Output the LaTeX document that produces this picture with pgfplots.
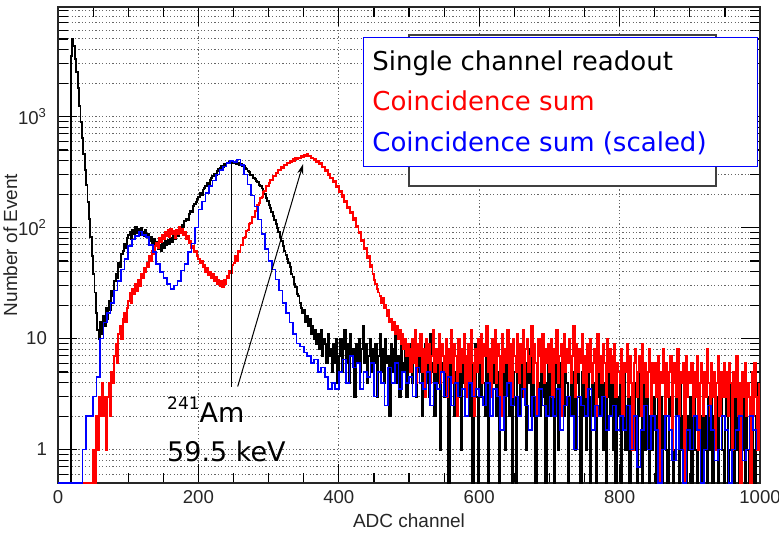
\documentclass[border=0pt]{standalone}
\usepackage{fontspec}
\setmainfont{Liberation Sans}
\newfontfamily\legfont{DejaVu Sans}
\usepackage{pgfplots}
\usepackage{pgfplotstable}
\pgfplotsset{compat=1.18}
\usetikzlibrary{arrows.meta}

% Histogram contents, one value per bin (low edge = index * bin width).
% Empty bins are stored as 0.5, the floor of the log axis.

% Single channel readout, 2 ADC channels per bin
\pgfplotstableread[row sep=\\]{y\\
0.5\\ 0.5\\ 0.5\\ 0.5\\ 0.5\\ 0.5\\ 0.5\\ 0.5\\ 0.5\\ 3500\\ 5000\\ 4300\\ 3300\\ 2500\\ 1800\\ 1250\\ 900\\ 640\\ 460\\ 330\\ 240\\ 170\\ 120\\ 82\\ 55\\
38\\ 26\\ 17\\ 12\\ 10\\ 14\\ 11\\ 16\\ 13\\ 19\\ 15\\ 22\\ 18\\ 27\\ 24\\ 33\\ 38\\ 35\\ 48\\ 44\\ 58\\ 62\\ 71\\ 66\\ 80\\
85\\ 92\\ 78\\ 96\\ 88\\ 101\\ 90\\ 97\\ 86\\ 99\\ 92\\ 84\\ 95\\ 82\\ 88\\ 76\\ 83\\ 72\\ 79\\ 68\\ 74\\ 64\\ 70\\ 62\\ 73\\
66\\ 75\\ 69\\ 78\\ 71\\ 80\\ 74\\ 85\\ 79\\ 88\\ 84\\ 96\\ 92\\ 105\\ 101\\ 114\\ 120\\ 118\\ 132\\ 140\\ 138\\ 155\\ 162\\ 170\\ 182\\
190\\ 205\\ 198\\ 220\\ 228\\ 235\\ 250\\ 245\\ 270\\ 282\\ 290\\ 305\\ 300\\ 325\\ 338\\ 345\\ 360\\ 352\\ 372\\ 365\\ 385\\ 378\\ 392\\ 380\\ 395\\
385\\ 390\\ 376\\ 382\\ 368\\ 372\\ 355\\ 360\\ 342\\ 338\\ 325\\ 318\\ 300\\ 295\\ 280\\ 272\\ 262\\ 255\\ 242\\ 238\\ 225\\ 215\\ 200\\ 185\\ 175\\
160\\ 150\\ 138\\ 128\\ 118\\ 108\\ 100\\ 92\\ 82\\ 76\\ 68\\ 62\\ 57\\ 52\\ 48\\ 44\\ 38\\ 36\\ 31\\ 29\\ 25\\ 24\\ 21\\ 19\\ 17\\
18\\ 14\\ 16\\ 13\\ 15\\ 11\\ 13\\ 10\\ 12\\ 9\\ 11\\ 8\\ 12\\ 7\\ 10\\ 9\\ 6\\ 11\\ 7\\ 8\\ 5\\ 9\\ 6\\ 10\\ 4\\
7\\ 10\\ 5\\ 8\\ 12\\ 6\\ 9\\ 4\\ 11\\ 7\\ 8\\ 3\\ 9\\ 6\\ 10\\ 5\\ 8\\ 13\\ 6\\ 9\\ 4\\ 7\\ 10\\ 5\\ 8\\
6\\ 9\\ 3\\ 7\\ 11\\ 5\\ 8\\ 4\\ 10\\ 6\\ 7\\ 2\\ 9\\ 5\\ 8\\ 12\\ 4\\ 7\\ 3\\ 9\\ 6\\ 5\\ 8\\ 3\\ 7\\
5\\ 9\\ 4\\ 6\\ 10\\ 3\\ 7\\ 5\\ 8\\ 2\\ 6\\ 9\\ 4\\ 7\\ 3\\ 11\\ 5\\ 6\\ 2\\ 8\\ 4\\ 7\\ 1\\ 6\\ 5\\
3\\ 8\\ 5\\ 0.5\\ 6\\ 4\\ 9\\ 2\\ 5\\ 7\\ 3\\ 6\\ 1\\ 8\\ 4\\ 5\\ 3\\ 7\\ 2\\ 6\\ 0.5\\ 5\\ 9\\ 3\\ 0.5\\
6\\ 3\\ 8\\ 4\\ 2\\ 7\\ 0.5\\ 5\\ 3\\ 9\\ 4\\ 6\\ 2\\ 5\\ 0.5\\ 7\\ 3\\ 5\\ 1\\ 8\\ 4\\ 2\\ 6\\ 0.5\\ 5\\
3\\ 0.5\\ 6\\ 4\\ 2\\ 7\\ 3\\ 5\\ 1\\ 6\\ 4\\ 8\\ 2\\ 5\\ 3\\ 0.5\\ 6\\ 4\\ 2\\ 7\\ 3\\ 5\\ 0.5\\ 4\\ 6\\
2\\ 5\\ 3\\ 0.5\\ 7\\ 4\\ 1\\ 6\\ 3\\ 5\\ 2\\ 8\\ 4\\ 0.5\\ 3\\ 6\\ 2\\ 5\\ 1\\ 4\\ 7\\ 3\\ 0.5\\ 5\\ 2\\
4\\ 1\\ 6\\ 3\\ 0.5\\ 5\\ 2\\ 4\\ 0.5\\ 7\\ 3\\ 2\\ 5\\ 1\\ 4\\ 0.5\\ 3\\ 6\\ 2\\ 4\\ 1\\ 5\\ 0.5\\ 3\\ 2\\
4\\ 0.5\\ 3\\ 5\\ 1\\ 2\\ 6\\ 0.5\\ 3\\ 2\\ 4\\ 1\\ 0.5\\ 5\\ 2\\ 3\\ 0.5\\ 4\\ 1\\ 3\\ 2\\ 0.5\\ 5\\ 1\\ 3\\
2\\ 0.5\\ 4\\ 1\\ 3\\ 0.5\\ 2\\ 5\\ 1\\ 0.5\\ 3\\ 2\\ 4\\ 0.5\\ 1\\ 3\\ 2\\ 0.5\\ 4\\ 1\\ 2\\ 3\\ 0.5\\ 2\\ 1\\
3\\ 0.5\\ 2\\ 4\\ 1\\ 0.5\\ 3\\ 2\\ 0.5\\ 5\\ 1\\ 2\\ 0.5\\ 3\\ 1\\ 4\\ 0.5\\ 2\\ 1\\ 3\\ 0.5\\ 2\\ 4\\ 1\\ 0.5\\
2\\ 3\\ 0.5\\ 1\\ 4\\ 2\\ 0.5\\ 3\\ 1\\ 2\\ 0.5\\ 4\\ 1\\ 3\\ 0.5\\ 2\\ 1\\ 0.5\\ 3\\ 2\\ 1\\ 0.5\\ 2\\ 4\\ 1\\
}\singlech

% Coincidence sum, 2 ADC channels per bin
\pgfplotstableread[row sep=\\]{y\\
0.5\\ 0.5\\ 0.5\\ 0.5\\ 0.5\\ 0.5\\ 0.5\\ 0.5\\ 0.5\\ 0.5\\ 0.5\\ 0.5\\ 0.5\\ 0.5\\ 0.5\\ 0.5\\ 0.5\\ 0.5\\ 0.5\\ 0.5\\ 0.5\\ 0.5\\ 0.5\\ 0.5\\ 0.5\\
1\\ 0.5\\ 2\\ 1\\ 3\\ 2\\ 4\\ 2\\ 3\\ 1\\ 3\\ 4\\ 2\\ 5\\ 4\\ 7\\ 9\\ 6\\ 11\\ 13\\ 10\\ 15\\ 17\\ 14\\ 19\\
22\\ 26\\ 21\\ 28\\ 25\\ 31\\ 27\\ 34\\ 30\\ 38\\ 35\\ 43\\ 40\\ 48\\ 44\\ 55\\ 50\\ 61\\ 58\\ 68\\ 72\\ 66\\ 80\\ 74\\ 86\\
78\\ 92\\ 84\\ 95\\ 82\\ 98\\ 88\\ 93\\ 80\\ 96\\ 87\\ 101\\ 90\\ 97\\ 86\\ 92\\ 78\\ 84\\ 72\\ 75\\ 65\\ 68\\ 60\\ 62\\ 55\\
52\\ 48\\ 50\\ 44\\ 46\\ 40\\ 43\\ 37\\ 40\\ 35\\ 38\\ 33\\ 36\\ 31\\ 34\\ 30\\ 33\\ 29\\ 34\\ 31\\ 37\\ 35\\ 41\\ 39\\ 46\\
48\\ 55\\ 50\\ 62\\ 60\\ 70\\ 69\\ 80\\ 82\\ 93\\ 95\\ 108\\ 110\\ 124\\ 125\\ 140\\ 142\\ 160\\ 165\\ 185\\ 188\\ 210\\ 212\\ 235\\ 238\\
250\\ 268\\ 270\\ 290\\ 292\\ 310\\ 312\\ 330\\ 328\\ 348\\ 345\\ 368\\ 362\\ 385\\ 378\\ 400\\ 392\\ 415\\ 400\\ 425\\ 418\\ 428\\ 425\\ 445\\ 432\\
452\\ 440\\ 458\\ 438\\ 445\\ 425\\ 428\\ 405\\ 412\\ 390\\ 398\\ 372\\ 378\\ 350\\ 352\\ 325\\ 328\\ 300\\ 302\\ 280\\ 282\\ 258\\ 262\\ 232\\ 235\\
208\\ 212\\ 188\\ 195\\ 168\\ 175\\ 150\\ 152\\ 135\\ 138\\ 118\\ 122\\ 102\\ 104\\ 90\\ 92\\ 76\\ 78\\ 64\\ 66\\ 53\\ 55\\ 44\\ 46\\ 38\\
34\\ 31\\ 28\\ 26\\ 24\\ 21\\ 23\\ 19\\ 20\\ 16\\ 18\\ 14\\ 15\\ 12\\ 14\\ 11\\ 13\\ 10\\ 12\\ 9\\ 11\\ 8\\ 10\\ 7\\ 9\\
8\\ 5\\ 10\\ 6\\ 12\\ 4\\ 9\\ 7\\ 11\\ 5\\ 8\\ 3\\ 10\\ 6\\ 9\\ 4\\ 7\\ 12\\ 5\\ 8\\ 6\\ 11\\ 4\\ 9\\ 7\\
5\\ 10\\ 3\\ 8\\ 6\\ 12\\ 4\\ 9\\ 7\\ 2\\ 10\\ 5\\ 8\\ 6\\ 11\\ 3\\ 7\\ 9\\ 4\\ 12\\ 6\\ 2\\ 8\\ 5\\ 10\\
6\\ 11\\ 4\\ 9\\ 7\\ 13\\ 5\\ 8\\ 3\\ 10\\ 6\\ 12\\ 4\\ 9\\ 7\\ 2\\ 11\\ 5\\ 8\\ 6\\ 12\\ 4\\ 9\\ 3\\ 10\\
7\\ 5\\ 11\\ 4\\ 9\\ 6\\ 12\\ 3\\ 8\\ 10\\ 5\\ 7\\ 13\\ 4\\ 9\\ 6\\ 2\\ 10\\ 7\\ 5\\ 11\\ 4\\ 8\\ 6\\ 9\\
5\\ 10\\ 3\\ 8\\ 6\\ 12\\ 4\\ 7\\ 9\\ 2\\ 11\\ 5\\ 8\\ 6\\ 10\\ 4\\ 7\\ 13\\ 3\\ 9\\ 5\\ 8\\ 6\\ 11\\ 4\\
7\\ 3\\ 9\\ 5\\ 10\\ 4\\ 6\\ 8\\ 2\\ 11\\ 5\\ 7\\ 4\\ 9\\ 6\\ 3\\ 10\\ 5\\ 8\\ 4\\ 7\\ 9\\ 3\\ 6\\ 5\\
4\\ 8\\ 2\\ 6\\ 5\\ 9\\ 3\\ 7\\ 4\\ 1\\ 6\\ 8\\ 3\\ 5\\ 7\\ 2\\ 9\\ 4\\ 6\\ 3\\ 5\\ 8\\ 2\\ 6\\ 4\\
6\\ 3\\ 7\\ 0.5\\ 5\\ 4\\ 8\\ 2\\ 6\\ 3\\ 5\\ 7\\ 1\\ 4\\ 6\\ 3\\ 8\\ 2\\ 5\\ 4\\ 6\\ 0.5\\ 7\\ 3\\ 5\\
4\\ 6\\ 2\\ 5\\ 3\\ 7\\ 1\\ 4\\ 6\\ 2\\ 5\\ 3\\ 8\\ 4\\ 2\\ 6\\ 3\\ 5\\ 1\\ 4\\ 7\\ 2\\ 5\\ 3\\ 6\\
3\\ 5\\ 2\\ 6\\ 4\\ 1\\ 5\\ 3\\ 7\\ 2\\ 4\\ 0.5\\ 5\\ 3\\ 6\\ 2\\ 4\\ 3\\ 0.5\\ 5\\ 2\\ 6\\ 3\\ 1\\ 4\\
}\coincsum

% Coincidence sum (scaled), 5 ADC channels per bin
\pgfplotstableread[row sep=\\]{y\\
0.5\\ 0.5\\ 0.5\\ 0.5\\ 0.5\\ 0.5\\ 0.5\\ 1\\ 2\\ 2\\ 3\\ 4.5\\ 10\\ 14\\ 17\\ 21\\ 27\\ 33\\ 42\\ 52\\
68\\ 78\\ 84\\ 92\\ 86\\ 82\\ 70\\ 60\\ 47\\ 40\\ 35\\ 31\\ 28\\ 30\\ 33\\ 41\\ 47\\ 60\\ 72\\ 100\\
145\\ 172\\ 205\\ 238\\ 265\\ 300\\ 330\\ 355\\ 380\\ 398\\ 390\\ 410\\ 365\\ 300\\ 245\\ 195\\ 155\\ 118\\ 88\\ 64\\
50\\ 42\\ 34\\ 27\\ 21\\ 17\\ 14\\ 11\\ 9\\ 8.5\\ 7.5\\ 7\\ 6\\ 6.5\\ 5\\ 5.5\\ 4.5\\ 3.5\\ 4\\ 3.5\\
5\\ 6.5\\ 4\\ 7\\ 5.5\\ 6\\ 3.5\\ 5\\ 4.5\\ 6\\ 3\\ 5\\ 4\\ 2.5\\ 5.5\\ 4\\ 6\\ 3.5\\ 5\\ 4\\
4.5\\ 3\\ 5.5\\ 4\\ 3.5\\ 5\\ 2.5\\ 4\\ 3.5\\ 5\\ 3\\ 4.5\\ 2.5\\ 4\\ 3\\ 3.5\\ 2\\ 4\\ 3\\ 3.5\\
3\\ 2.5\\ 4\\ 2\\ 3.5\\ 3\\ 1.5\\ 3\\ 4\\ 2.5\\ 3\\ 2\\ 3.5\\ 2.5\\ 1.5\\ 3\\ 2\\ 3.5\\ 2.5\\ 2\\
3\\ 2\\ 3.5\\ 1.5\\ 2.5\\ 3\\ 2\\ 1\\ 3\\ 2.5\\ 2\\ 3.5\\ 1.5\\ 2.5\\ 2\\ 3\\ 1.5\\ 2\\ 2.5\\ 1.5\\
2\\ 1.5\\ 2.5\\ 1\\ 2\\ 0.7\\ 1.5\\ 2.5\\ 1\\ 2\\ 1.5\\ 0.5\\ 1\\ 2\\ 1.5\\ 0.8\\ 2\\ 1\\ 0.5\\ 1.5\\
1\\ 2\\ 1.5\\ 0.5\\ 1\\ 2.5\\ 1.5\\ 0.8\\ 1\\ 2\\ 1.5\\ 0.5\\ 1\\ 1.5\\ 2\\ 0.8\\ 1\\ 2\\ 1.5\\ 1\\
}\coincscaled

\begin{document}
\begin{tikzpicture}
\useasboundingbox (-29pt,-25.5pt) rectangle (360.5pt,241.5pt);
\begin{axis}[
  scale only axis,
  width=351pt, height=238pt,
  xmin=0, xmax=1000,
  ymode=log, ymin=0.5, ymax=9700,
  xtick={0,200,...,1000},
  minor x tick num=3,
  ytick={1,10,100,1000},
  yticklabels={1,10,10\textsuperscript{2},10\textsuperscript{3}},
  minor ytick={0.6,0.7,0.8,0.9,2,3,...,9,20,30,...,90,200,300,...,900,2000,3000,...,9000},
  xmajorgrids, ymajorgrids, yminorgrids,
  grid style={gray!80!black, line width=0.45pt, dash pattern=on 0.6pt off 1.1pt},
  major tick length=9.5pt, minor tick length=5pt,
  tick style={black, line width=0.6pt},
  axis line style={line width=0.8pt, black!85},
  scaled x ticks=false,
  /pgf/number format/assume math mode=true,
  /pgf/number format/1000 sep={},
  tick label style={font=\fontsize{9.3}{11}\selectfont, text=black!85},
  yticklabel style={xshift=-2pt},
  xlabel={ADC channel},
  ylabel={Number of Event},
  label style={font=\fontsize{9.5}{11}\selectfont, text=black!85},
  xlabel style={at={(axis description cs:0.5,-0.08)}, anchor=center},
  ylabel style={at={(axis description cs:-0.068,0.5)}, anchor=center},
]
\addplot[const plot, black, line width=0.95pt] table[x expr=\coordindex*2, y=y] {\singlech};
\addplot[const plot, red, line width=0.95pt] table[x expr=\coordindex*2, y=y] {\coincsum};
\addplot[const plot, blue, line width=0.8pt] table[x expr=\coordindex*5, y=y] {\coincscaled};

% photopeak annotation
\draw[black, line width=0.5pt] (axis cs:247,385) -- (axis cs:247,3.7);
\draw[black, line width=0.5pt, -{Stealth[length=5pt,width=3pt]}] (axis cs:256,3.7) -- (axis cs:349,372);
\node[anchor=base west, inner sep=0pt, font=\legfont\fontsize{13.5}{16}\selectfont]
  at (axis cs:155,1.75) {{\fontsize{8.5}{9}\selectfont\raisebox{6.5pt}{241}}Am};
\node[anchor=base west, inner sep=0pt, font=\legfont\fontsize{13.5}{16}\selectfont]
  at (axis cs:155,0.78) {59.5 keV};
\end{axis}

% legend
\draw[fill=white, draw=gray!50!black, line width=1pt] (175.5pt,148.5pt) rectangle (329pt,224pt);
\draw[fill=white, draw=blue, line width=0.5pt] (152.5pt,158pt) rectangle (349.5pt,222.5pt);
\begin{scope}[every node/.style={anchor=base west, inner sep=0pt, font=\legfont\fontsize{13}{15}\selectfont}]
\node[text=black] at (157pt,206pt) {Single channel readout};
\node[text=red] at (157pt,186pt) {Coincidence sum};
\node[text=blue] at (157pt,165.6pt) {Coincidence sum (scaled)};
\end{scope}
\end{tikzpicture}
\end{document}
